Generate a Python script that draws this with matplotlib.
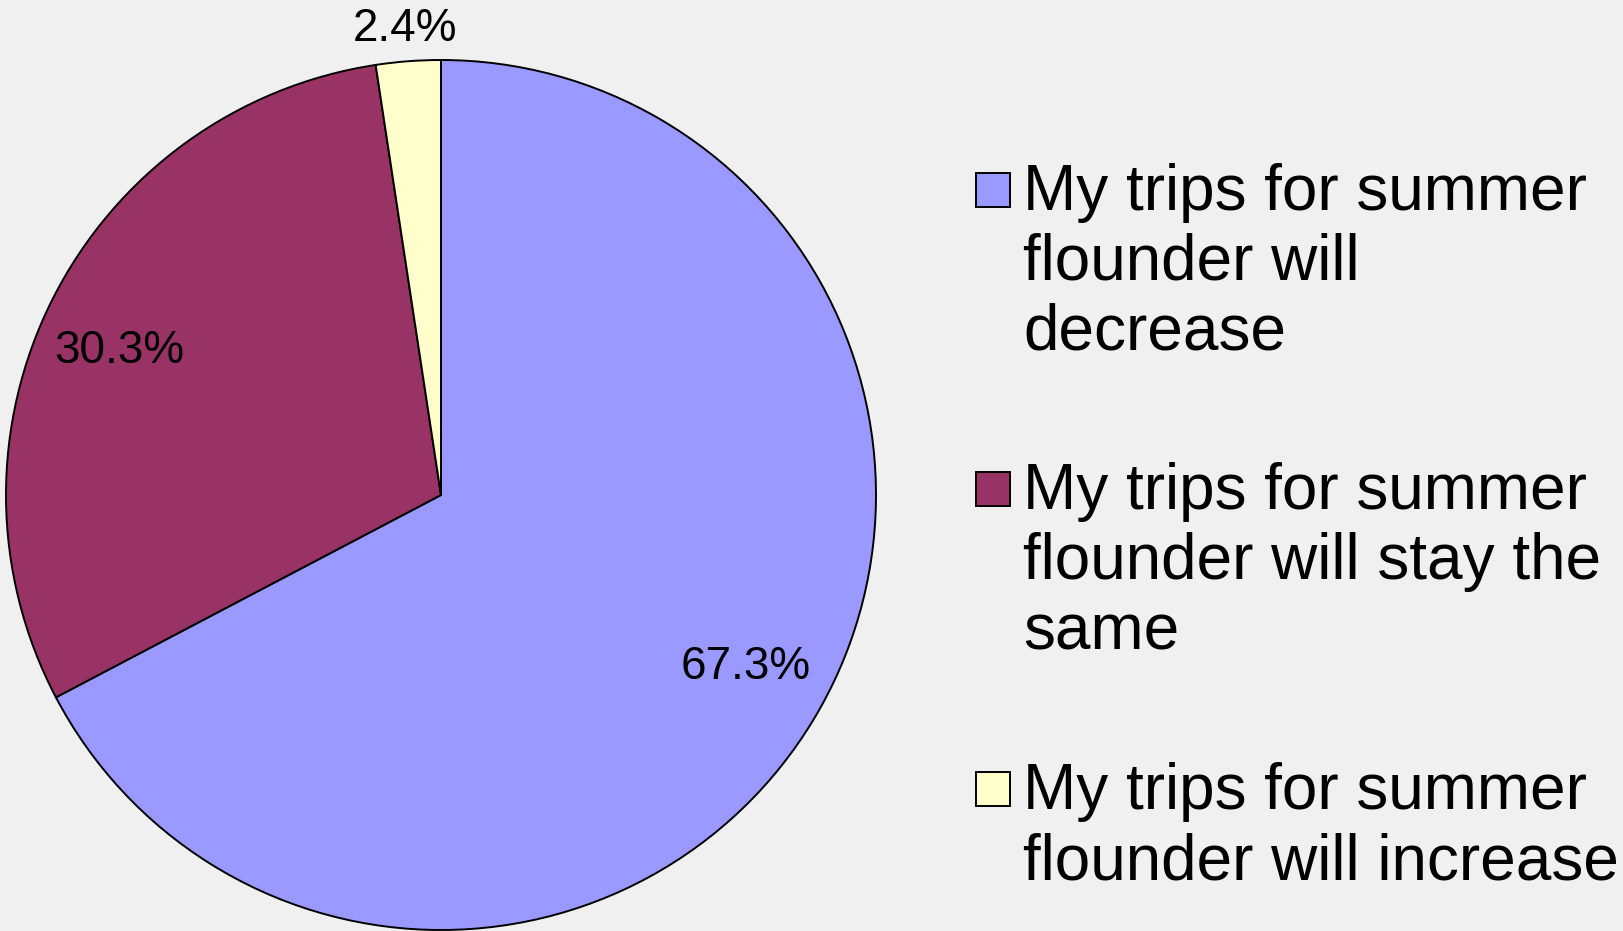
import numpy as np
import matplotlib
matplotlib.use('Agg')
import matplotlib.pyplot as plt
from matplotlib.patches import Rectangle

plt.rcParams['font.family'] = ['Liberation Sans', 'DejaVu Sans']

# survey answers, share of respondents (%)
shares = [67.3, 30.3, 2.4]
labels = ['My trips for summer\nflounder will\ndecrease',
          'My trips for summer\nflounder will stay the\nsame',
          'My trips for summer\nflounder will increase']
colors = ['#9999FF', '#993366', '#FFFFCC']

W, H = 1624, 931
bg = '#F0F0F0'
fig = plt.figure(figsize=(W / 100, H / 100), dpi=100, facecolor=bg)

# pie: centre (441, 495) px, radius 435 px
cx, cy, r = 441, 495, 435
ax = fig.add_axes([(cx - r) / W, (H - cy - r) / H, 2 * r / W, 2 * r / H])
ax.set_facecolor(bg)

wedges, texts, autotexts = ax.pie(
    shares, colors=colors, startangle=90, counterclock=False,
    autopct='%1.1f%%', pctdistance=0.8,
    wedgeprops=dict(edgecolor='black', linewidth=1.4),
    textprops=dict(fontsize=33, color='black'))
ax.set_xlim(-1, 1)
ax.set_ylim(-1, 1)
ax.set_aspect('equal')
ax.axis('off')

# label placement as in the original (small slice label outside, above)
autotexts[0].set_position((0.700, -0.395))
autotexts[1].set_position((-0.740, 0.330))
autotexts[2].set_position((-0.083, 1.071))

# legend drawn by hand so the square lines up with the first text line
leg_x_box = 976
leg_x_text = 1023
box = 34
first_base = [210, 509, 809]
line_h = 70
for lab, col, base in zip(labels, colors, first_base):
    for i, line in enumerate(lab.split('\n')):
        y = base + i * line_h
        fig.text(leg_x_text / W, 1 - y / H, line, fontsize=46,
                 ha='left', va='baseline', color='black')
    yc = base - 20
    fig.add_artist(Rectangle((leg_x_box / W, 1 - (yc + box / 2) / H),
                             box / W, box / H, transform=fig.transFigure,
                             facecolor=col, edgecolor='black', linewidth=1.4))

fig.savefig('out.png', dpi=100, facecolor=bg)
